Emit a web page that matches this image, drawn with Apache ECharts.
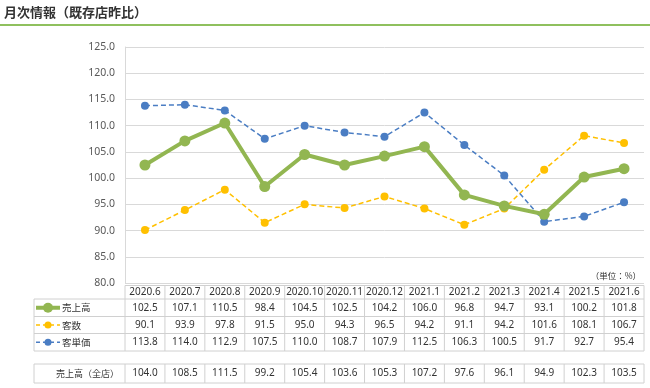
<!DOCTYPE html>
<html><head><meta charset="utf-8">
<script src="https://cdn.jsdelivr.net/npm/echarts@6/dist/echarts.min.js"></script>
<style>html,body{margin:0;padding:0;background:#fff}#c{width:650px;height:388px}</style>
</head><body><div id="c"></div>
<script>
const months = ['2020.6','2020.7','2020.8','2020.9','2020.10','2020.11','2020.12','2021.1','2021.2','2021.3','2021.4','2021.5','2021.6'];
const sales = [102.5,107.1,110.5,98.4,104.5,102.5,104.2,106.0,96.8,94.7,93.1,100.2,101.8];
const customers = [90.1,93.9,97.8,91.5,95.0,94.3,96.5,94.2,91.1,94.2,101.6,108.1,106.7];
const unitPrice = [113.8,114.0,112.9,107.5,110.0,108.7,107.9,112.5,106.3,100.5,91.7,92.7,95.4];
const salesAll = [104.0,108.5,111.5,99.2,105.4,103.6,105.3,107.2,97.6,96.1,94.9,102.3,103.5];
const seriesNames = ['売上高','客数','客単価'];
const allStoreLabel = '売上高（全店）';
const yTicks = {min:80, max:125, interval:5};

const FONT = '"Noto Sans CJK JP", "Noto Sans", sans-serif';
const NFONT = '"Noto Sans", "Noto Sans CJK JP", sans-serif';
const C_GREEN = '#92b651', C_YEL = '#ffc000', C_BLUE = '#4a7dc3';
const chart = echarts.init(document.getElementById('c'));
const option = {
  animation:false,
  textStyle:{fontFamily:FONT},
  grid:{left:125, right:6, top:47, bottom:105},
  xAxis:{type:'category', data:months, boundaryGap:true,
    axisLine:{show:false}, axisTick:{show:false}, axisLabel:{show:false}},
  yAxis:{type:'value', min:yTicks.min, max:yTicks.max, interval:yTicks.interval,
    axisLine:{show:true, lineStyle:{color:'#d9d9d9'}}, axisTick:{show:false},
    splitLine:{lineStyle:{color:'#d9d9d9', width:1}},
    axisLabel:{formatter:v=>v.toFixed(1), color:'#595959', fontSize:10.5, margin:10, fontFamily:NFONT}},
  series:[
    {name:seriesNames[0], type:'line', data:sales, symbol:'circle', symbolSize:11,
      lineStyle:{color:C_GREEN, width:4}, itemStyle:{color:C_GREEN}, z:3},
    {name:seriesNames[1], type:'line', data:customers, symbol:'circle', symbolSize:8,
      lineStyle:{color:C_YEL, width:1.5, type:[5,3]}, itemStyle:{color:C_YEL}, z:2},
    {name:seriesNames[2], type:'line', data:unitPrice, symbol:'circle', symbolSize:8,
      lineStyle:{color:C_BLUE, width:1.5, type:[5,3]}, itemStyle:{color:C_BLUE}, z:2}
  ]
};
chart.setOption(option);

// build table
const g = [];
const lineC = '#d0d0d0';
const c0 = chart.convertToPixel({xAxisIndex:0}, months[0]);
const c1 = chart.convertToPixel({xAxisIndex:0}, months[1]);
const bw = c1 - c0;
const tLeft = 34;
const colL = c0 - bw/2;
const colR = chart.convertToPixel({xAxisIndex:0}, months[months.length-1]) + bw/2;
const rows = [285.5, 299, 316.5, 333.5, 351];
const row4 = [364, 383];
function hl(x1,x2,y){g.push({type:'line', shape:{x1,y1:y,x2,y2:y}, style:{stroke:lineC, lineWidth:1}, silent:true});}
function vl(x,y1,y2){g.push({type:'line', shape:{x1:x,y1,x2:x,y2}, style:{stroke:lineC, lineWidth:1}, silent:true});}
function txt(x,y,t,align,size,font){g.push({type:'text', x, y, style:{text:t, align:align||'center', verticalAlign:'middle', fill:'#333', fontSize:size||10, fontFamily:font||NFONT}, silent:true});}
hl(colL, colR, rows[0]);
for (let i=1;i<rows.length;i++) hl(tLeft, colR, rows[i]);
vl(tLeft, rows[1], rows[4]);
vl(colL, rows[0], rows[4]);
hl(tLeft, colR, row4[0]); hl(tLeft, colR, row4[1]);
vl(tLeft, row4[0], row4[1]); vl(colL, row4[0], row4[1]);
for (let i=0;i<months.length;i++){
  const cx = chart.convertToPixel({xAxisIndex:0}, months[i]);
  const r = cx + bw/2;
  vl(r, rows[0], rows[4]); vl(r, row4[0], row4[1]);
  txt(cx, (rows[0]+rows[1])/2, months[i]);
  txt(cx, (rows[1]+rows[2])/2, sales[i].toFixed(1));
  txt(cx, (rows[2]+rows[3])/2, customers[i].toFixed(1));
  txt(cx, (rows[3]+rows[4])/2, unitPrice[i].toFixed(1));
  txt(cx, (row4[0]+row4[1])/2, salesAll[i].toFixed(1));
}
// legend keys
const keys = [[C_GREEN,4,null,10],[C_YEL,1.5,[4,3],7],[C_BLUE,1.5,[4,3],7]];
for (let k=0;k<3;k++){
  const y = (rows[k+1]+rows[k+2])/2;
  g.push({type:'line', shape:{x1:36,y1:y,x2:60,y2:y}, style:{stroke:keys[k][0], lineWidth:keys[k][1], lineDash:keys[k][2]}, silent:true});
  g.push({type:'circle', shape:{cx:48,cy:y,r:keys[k][3]/2}, style:{fill:keys[k][0]}, silent:true});
  txt(62, y, seriesNames[k], 'left', 9.5, FONT);
}
txt(119, (row4[0]+row4[1])/2, allStoreLabel, 'right', 9, FONT);
txt(641, 276, '（単位：%）', 'right', 8.5, FONT);
// title
g.push({type:'text', x:4, y:12, style:{text:'月次情報（既存店昨比）', fill:'#333', fontSize:13, fontWeight:'bold', fontFamily:FONT, verticalAlign:'middle'}, silent:true});
g.push({type:'line', shape:{x1:0,y1:25,x2:650,y2:25}, style:{stroke:'#8fc05e', lineWidth:2}, silent:true});
chart.setOption({graphic:g});
</script></body></html>
